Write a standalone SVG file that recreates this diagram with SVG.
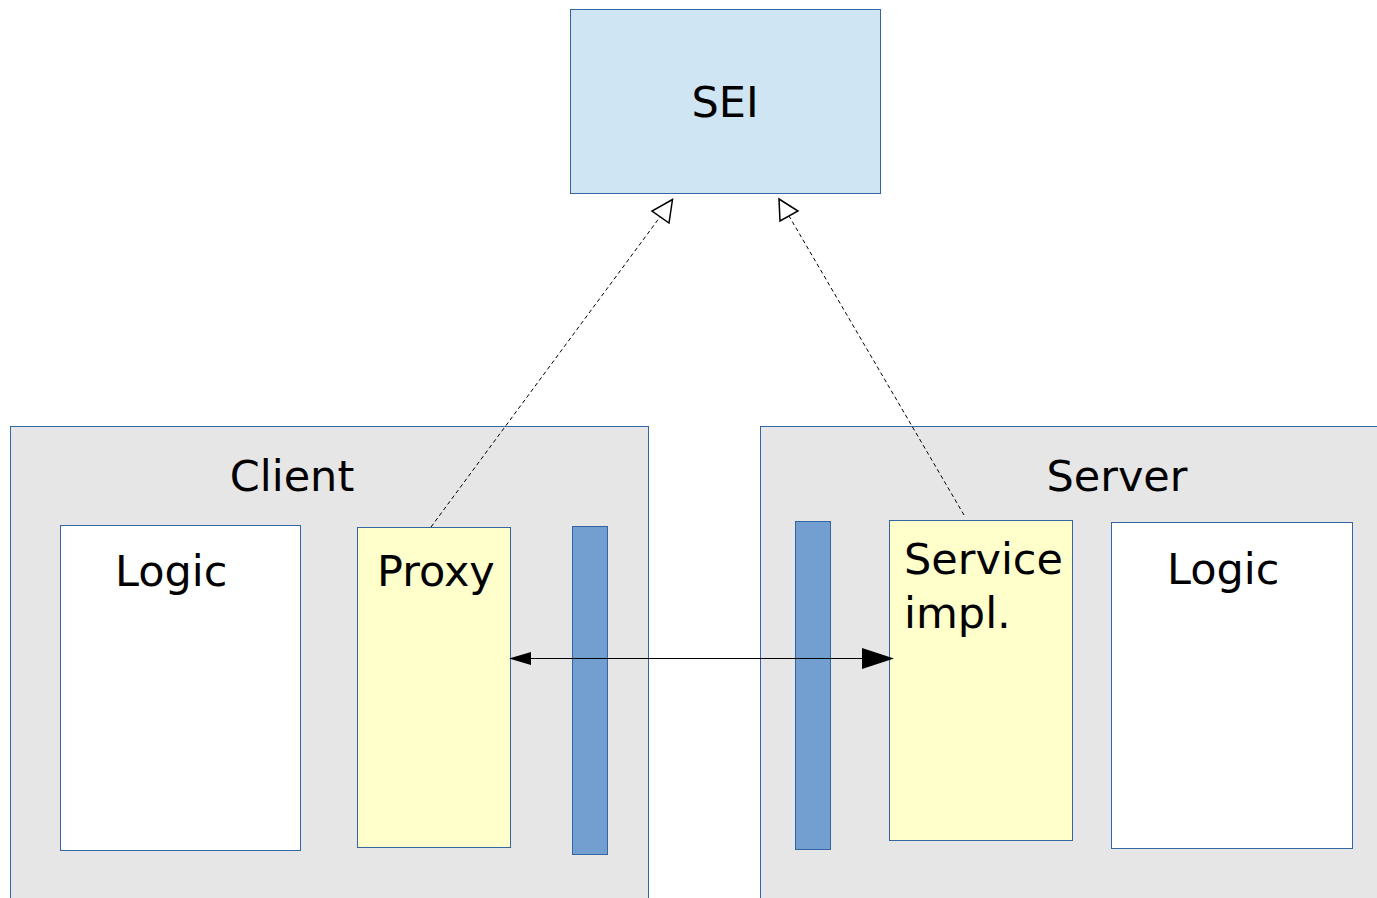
<svg xmlns="http://www.w3.org/2000/svg" width="1377" height="898" viewBox="0 0 1377 898">
  <style>
    .label { font-family: "DejaVu Sans", sans-serif; font-size: 43px; fill: #000; }
    .box { stroke: #3465a4; stroke-width: 1; }
    .container { fill: #e6e6e6; }
    .logic { fill: #ffffff; }
    .stub { fill: #ffffcc; }
    .bar { fill: #729fcf; }
    .dash { stroke: #000; stroke-width: 1; stroke-dasharray: 4 3; fill: none; }
    .open { fill: #fff; stroke: #000; stroke-width: 1.5; }
  </style>
  <rect width="1377" height="898" fill="#ffffff"/>

  <g id="sei">
    <rect class="box" x="570.5" y="9.5" width="310" height="184" fill="#cfe5f3"/>
    <text class="label" x="725" y="117" text-anchor="middle" font-size="47">SEI</text>
  </g>

  <g id="client">
    <rect class="box container" x="10.5" y="426.5" width="638" height="480"/>
    <text class="label" x="292" y="491" text-anchor="middle">Client</text>
  </g>

  <g id="server">
    <rect class="box container" x="760.5" y="426.5" width="630" height="480"/>
    <text class="label" x="1117" y="491" text-anchor="middle">Server</text>
  </g>

  <g id="client-logic">
    <rect class="box logic" x="60.5" y="525.5" width="240" height="325"/>
    <text class="label" x="115" y="586">Logic</text>
  </g>

  <g id="proxy">
    <rect class="box stub" x="357.5" y="527.5" width="153" height="320"/>
    <text class="label" x="377" y="586">Proxy</text>
  </g>

  <g id="client-bar">
    <rect class="box bar" x="572.5" y="526.5" width="35" height="328"/>
  </g>

  <g id="server-bar">
    <rect class="box bar" x="795.5" y="521.5" width="35" height="328"/>
  </g>

  <g id="service-impl">
    <rect class="box stub" x="889.5" y="520.5" width="183" height="320"/>
    <text class="label" x="904" y="574">Service</text>
    <text class="label" x="904" y="628">impl.</text>
  </g>

  <g id="server-logic">
    <rect class="box logic" x="1111.5" y="522.5" width="241" height="326"/>
    <text class="label" x="1167" y="584">Logic</text>
  </g>

  <g id="connectors">
    <!-- Proxy realizes SEI -->
    <line class="dash" x1="431" y1="527" x2="660" y2="217"/>
    <polygon class="open" points="672.5,199.5 652,211 669,223"/>
    <!-- Service impl realizes SEI -->
    <line class="dash" x1="964" y1="515" x2="789" y2="216"/>
    <polygon class="open" points="779,199 798,211 780,221"/>
    <!-- Proxy <-> Service impl call -->
    <line x1="520" y1="658.5" x2="870" y2="658.5" stroke="#000" stroke-width="1"/>
    <polygon points="509,658.5 531,652 531,665" fill="#000"/>
    <polygon points="894,658.5 862,648 862,669" fill="#000"/>
  </g>
</svg>
